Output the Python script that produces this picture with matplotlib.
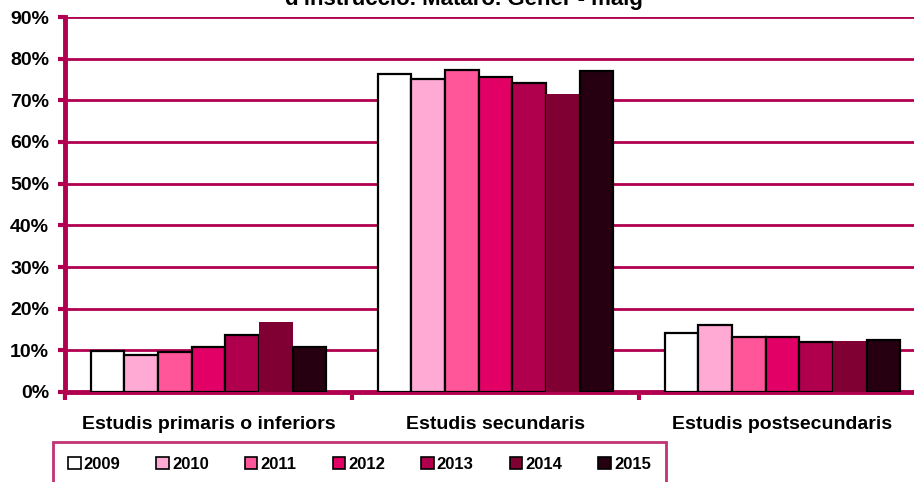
import matplotlib
matplotlib.use("Agg")
import matplotlib.pyplot as plt
import numpy as np
from matplotlib.patches import Patch

categories = ["Estudis primaris o inferiors", "Estudis secundaris", "Estudis postsecundaris"]
years = ["2009", "2010", "2011", "2012", "2013", "2014", "2015"]
values = {
    "2009": [9.9, 76.2, 14.2],
    "2010": [8.8, 75.2, 16.1],
    "2011": [9.5, 77.2, 13.1],
    "2012": [10.7, 75.6, 13.1],
    "2013": [13.7, 74.2, 11.9],
    "2014": [16.9, 71.4, 12.2],
    "2015": [10.8, 77.0, 12.4],
}
colors = ["#FFFFFF", "#FFAAD4", "#FF5599", "#E30066", "#B0004D", "#800033", "#260010"]
edges = ["black", "black", "black", "black", "black", "none", "black"]
yticks = [0, 10, 20, 30, 40, 50, 60, 70, 80, 90]
title = "d'instrucció. Mataró. Gener - maig"

plt.rcParams['font.family'] = ['Liberation Sans', 'DejaVu Sans']
plt.rcParams['font.weight'] = 'bold'
crim = "#B0004F"

fig = plt.figure(figsize=(9.14, 4.82), dpi=100)
ax = fig.add_axes([65/914, 1-392/482, 861/914, 375/482])

n = len(years)
bw = 0.1174
x = np.arange(len(categories))
for i, y in enumerate(years):
    off = (i - (n-1)/2) * bw
    ax.bar(x + off, values[y], width=bw, color=colors[i],
           edgecolor=edges[i], linewidth=1.6, zorder=3, label=y)

ax.set_xlim(-0.5, 2.5)
ax.set_ylim(0, 90)
ax.set_yticks(yticks)
ax.set_yticklabels([f"{v}%" for v in yticks], fontsize=14, fontweight='bold')
ax.yaxis.grid(True, color=crim, linewidth=2, zorder=0)
ax.set_axisbelow(True)
ax.set_xticks([-0.5, 0.5, 1.5, 2.5])
ax.set_xticklabels([])
ax.set_xticks(x, minor=True)
ax.set_xticklabels(categories, minor=True, fontsize=14, fontweight='bold')
ax.tick_params(axis='x', which='minor', length=0, pad=17)
ax.tick_params(axis='x', which='major', length=6, width=3, color=crim, direction='out')
ax.tick_params(axis='y', length=5, width=3, color=crim, direction='out', pad=6.5)
for s in ['top', 'right']:
    ax.spines[s].set_visible(False)
for s in ['left', 'bottom']:
    ax.spines[s].set_color(crim)
    ax.spines[s].set_linewidth(3.5)

fig.text(0.508, 1 - 5/482, title, ha='center', va='baseline', fontsize=16, fontweight='bold')

handles = [Patch(facecolor=colors[i], edgecolor='black', linewidth=1.2, label=years[i]) for i in range(n)]
leg = fig.legend(handles=handles, loc='upper left', bbox_to_anchor=(53/914, 1-442/482),
                 ncol=7, frameon=True, handlelength=0.75, handleheight=0.75,
                 handletextpad=0.2, columnspacing=2.15, borderpad=0.9, borderaxespad=0,
                 fancybox=False, prop={'weight': 'bold', 'size': 12})
leg.get_frame().set_edgecolor(crim)
leg.get_frame().set_linewidth(2)

fig.savefig("out.png", dpi=100)
